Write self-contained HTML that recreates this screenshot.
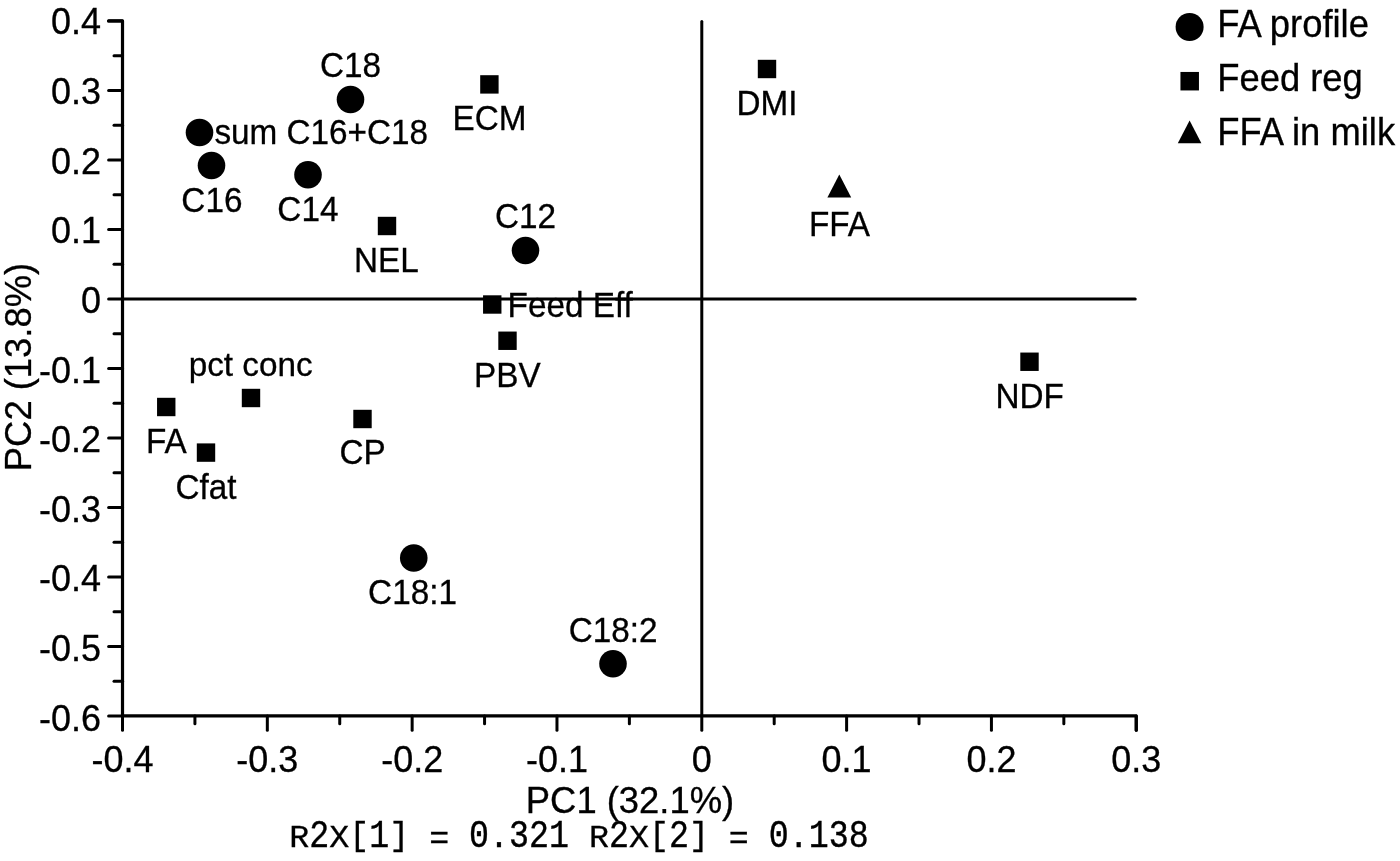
<!DOCTYPE html>
<html lang="en"><head><meta charset="utf-8"><title>PCA loadings plot</title>
<style>html,body{margin:0;padding:0;background:#fff;}body{width:1400px;height:861px;overflow:hidden;}svg{display:block;}text{font-family:"Liberation Sans",sans-serif;fill:#000;}text.mono{font-family:"Liberation Mono",monospace;}</style></head><body>
<svg width="1400" height="861" viewBox="0 0 1400 861">
<defs><filter id="soft" x="0" y="0" width="1400" height="861" filterUnits="userSpaceOnUse" color-interpolation-filters="sRGB"><feGaussianBlur stdDeviation="0.45"/></filter></defs>
<rect x="0" y="0" width="1400" height="861" fill="#ffffff"/>
<g filter="url(#soft)">
<rect x="0" y="0" width="1400" height="861" fill="#ffffff"/>
<g stroke="#000" fill="none" stroke-linecap="round" stroke-linejoin="round">
<path d="M108.6 20.95 H122.51 V715.95 H1136.25 V730.25" stroke-width="3.2"/>
<line x1="122.51" y1="298.95" x2="1135.25" y2="298.95" stroke-width="3.0"/>
<line x1="701.79" y1="21.55" x2="701.79" y2="715.95" stroke-width="3.0"/>
<line x1="108.6" y1="20.95" x2="122.51" y2="20.95" stroke-width="3.0"/>
<line x1="114.0" y1="55.70" x2="122.51" y2="55.70" stroke-width="3.0"/>
<line x1="108.6" y1="90.45" x2="122.51" y2="90.45" stroke-width="3.0"/>
<line x1="114.0" y1="125.20" x2="122.51" y2="125.20" stroke-width="3.0"/>
<line x1="108.6" y1="159.95" x2="122.51" y2="159.95" stroke-width="3.0"/>
<line x1="114.0" y1="194.70" x2="122.51" y2="194.70" stroke-width="3.0"/>
<line x1="108.6" y1="229.45" x2="122.51" y2="229.45" stroke-width="3.0"/>
<line x1="114.0" y1="264.20" x2="122.51" y2="264.20" stroke-width="3.0"/>
<line x1="108.6" y1="298.95" x2="122.51" y2="298.95" stroke-width="3.0"/>
<line x1="114.0" y1="333.70" x2="122.51" y2="333.70" stroke-width="3.0"/>
<line x1="108.6" y1="368.45" x2="122.51" y2="368.45" stroke-width="3.0"/>
<line x1="114.0" y1="403.20" x2="122.51" y2="403.20" stroke-width="3.0"/>
<line x1="108.6" y1="437.95" x2="122.51" y2="437.95" stroke-width="3.0"/>
<line x1="114.0" y1="472.70" x2="122.51" y2="472.70" stroke-width="3.0"/>
<line x1="108.6" y1="507.45" x2="122.51" y2="507.45" stroke-width="3.0"/>
<line x1="114.0" y1="542.20" x2="122.51" y2="542.20" stroke-width="3.0"/>
<line x1="108.6" y1="576.95" x2="122.51" y2="576.95" stroke-width="3.0"/>
<line x1="114.0" y1="611.70" x2="122.51" y2="611.70" stroke-width="3.0"/>
<line x1="108.6" y1="646.45" x2="122.51" y2="646.45" stroke-width="3.0"/>
<line x1="114.0" y1="681.20" x2="122.51" y2="681.20" stroke-width="3.0"/>
<line x1="108.6" y1="715.95" x2="122.51" y2="715.95" stroke-width="3.0"/>
<line x1="122.51" y1="715.95" x2="122.51" y2="730.25" stroke-width="3.0"/>
<line x1="194.92" y1="715.95" x2="194.92" y2="723.75" stroke-width="3.0"/>
<line x1="267.33" y1="715.95" x2="267.33" y2="730.25" stroke-width="3.0"/>
<line x1="339.74" y1="715.95" x2="339.74" y2="723.75" stroke-width="3.0"/>
<line x1="412.15" y1="715.95" x2="412.15" y2="730.25" stroke-width="3.0"/>
<line x1="484.56" y1="715.95" x2="484.56" y2="723.75" stroke-width="3.0"/>
<line x1="556.97" y1="715.95" x2="556.97" y2="730.25" stroke-width="3.0"/>
<line x1="629.38" y1="715.95" x2="629.38" y2="723.75" stroke-width="3.0"/>
<line x1="701.79" y1="715.95" x2="701.79" y2="730.25" stroke-width="3.0"/>
<line x1="774.20" y1="715.95" x2="774.20" y2="723.75" stroke-width="3.0"/>
<line x1="846.61" y1="715.95" x2="846.61" y2="730.25" stroke-width="3.0"/>
<line x1="919.02" y1="715.95" x2="919.02" y2="723.75" stroke-width="3.0"/>
<line x1="991.43" y1="715.95" x2="991.43" y2="730.25" stroke-width="3.0"/>
<line x1="1063.84" y1="715.95" x2="1063.84" y2="723.75" stroke-width="3.0"/>
<line x1="1136.25" y1="715.95" x2="1136.25" y2="730.25" stroke-width="3.0"/>
</g>
<g stroke="#000" stroke-width="0.3">
<text transform="translate(101.10 34.45) scale(1 1.045)" font-size="36" text-anchor="end">0.4</text>
<text transform="translate(101.10 104.06) scale(1 1.045)" font-size="36" text-anchor="end">0.3</text>
<text transform="translate(101.10 173.67) scale(1 1.045)" font-size="36" text-anchor="end">0.2</text>
<text transform="translate(101.10 243.28) scale(1 1.045)" font-size="36" text-anchor="end">0.1</text>
<text transform="translate(101.10 312.89) scale(1 1.045)" font-size="36" text-anchor="end">0</text>
<text transform="translate(101.10 382.50) scale(1 1.045)" font-size="36" text-anchor="end">-0.1</text>
<text transform="translate(101.10 452.11) scale(1 1.045)" font-size="36" text-anchor="end">-0.2</text>
<text transform="translate(101.10 521.72) scale(1 1.045)" font-size="36" text-anchor="end">-0.3</text>
<text transform="translate(101.10 591.33) scale(1 1.045)" font-size="36" text-anchor="end">-0.4</text>
<text transform="translate(101.10 660.94) scale(1 1.045)" font-size="36" text-anchor="end">-0.5</text>
<text transform="translate(101.10 730.55) scale(1 1.045)" font-size="36" text-anchor="end">-0.6</text>
<text transform="translate(122.51 771.70) scale(1 1.045)" font-size="36" text-anchor="middle">-0.4</text>
<text transform="translate(267.33 771.70) scale(1 1.045)" font-size="36" text-anchor="middle">-0.3</text>
<text transform="translate(412.15 771.70) scale(1 1.045)" font-size="36" text-anchor="middle">-0.2</text>
<text transform="translate(556.97 771.70) scale(1 1.045)" font-size="36" text-anchor="middle">-0.1</text>
<text transform="translate(701.79 771.70) scale(1 1.045)" font-size="36" text-anchor="middle">0</text>
<text transform="translate(846.61 771.70) scale(1 1.045)" font-size="36" text-anchor="middle">0.1</text>
<text transform="translate(991.43 771.70) scale(1 1.045)" font-size="36" text-anchor="middle">0.2</text>
<text transform="translate(1136.25 771.70) scale(1 1.045)" font-size="36" text-anchor="middle">0.3</text>
<text transform="translate(630.00 812.90) scale(1 1.0)" font-size="36.4" text-anchor="middle">PC1 (32.1%)</text>
<text transform="translate(31.0 367) rotate(-90)" font-size="36.4" text-anchor="middle">PC2 (13.8%)</text>
<text transform="translate(350.60 77.40) scale(1 1.045)" font-size="33.3" text-anchor="middle">C18</text>
<text transform="translate(321.25 143.60) scale(1 1.045)" font-size="33.3" text-anchor="middle">sum C16+C18</text>
<text transform="translate(211.90 212.40) scale(1 1.045)" font-size="33.3" text-anchor="middle">C16</text>
<text transform="translate(307.90 221.10) scale(1 1.045)" font-size="33.3" text-anchor="middle">C14</text>
<text transform="translate(489.50 130.30) scale(1 1.045)" font-size="33.3" text-anchor="middle">ECM</text>
<text transform="translate(386.40 272.40) scale(1 1.045)" font-size="33.3" text-anchor="middle">NEL</text>
<text transform="translate(525.60 227.90) scale(1 1.045)" font-size="33.3" text-anchor="middle">C12</text>
<text transform="translate(570.20 316.60) scale(1 1.045)" font-size="33.3" text-anchor="middle">Feed Eff</text>
<text transform="translate(507.40 386.90) scale(1 1.045)" font-size="33.3" text-anchor="middle">PBV</text>
<text transform="translate(250.70 376.10) scale(1 1.0)" font-size="33.3" text-anchor="middle">pct conc</text>
<text transform="translate(166.40 453.10) scale(1 1.045)" font-size="33.3" text-anchor="middle">FA</text>
<text transform="translate(206.00 498.80) scale(1 1.045)" font-size="33.3" text-anchor="middle">Cfat</text>
<text transform="translate(362.50 464.40) scale(1 1.045)" font-size="33.3" text-anchor="middle">CP</text>
<text transform="translate(412.50 604.40) scale(1 1.045)" font-size="33.3" text-anchor="middle">C18:1</text>
<text transform="translate(613.10 641.60) scale(1 1.045)" font-size="33.3" text-anchor="middle">C18:2</text>
<text transform="translate(767.00 115.40) scale(1 1.045)" font-size="33.3" text-anchor="middle">DMI</text>
<text transform="translate(839.50 235.60) scale(1 1.045)" font-size="33.3" text-anchor="middle">FFA</text>
<text transform="translate(1029.60 407.90) scale(1 1.045)" font-size="33.3" text-anchor="middle">NDF</text>
<text transform="translate(1217.20 37.00) scale(1 1.045)" font-size="36.4" text-anchor="start">FA profile</text>
<text transform="translate(1217.20 91.00) scale(1 1.045)" font-size="36.4" text-anchor="start">Feed reg</text>
<text transform="translate(1217.20 145.30) scale(1 1.045)" font-size="36.4" text-anchor="start">FFA in milk</text>
</g>
<g font-size="33.3" stroke="#000" stroke-width="0.35">
<text class="mono" transform="translate(289.30 846.60) scale(1 0.92)">R</text>
<text class="mono" transform="translate(309.28 846.60) scale(1 1.14)">2</text>
<text class="mono" transform="translate(329.26 846.60) scale(1 0.92)">X</text>
<text class="mono" transform="translate(349.24 845.10) scale(1 1.0)">[</text>
<text class="mono" transform="translate(369.22 846.60) scale(1 1.14)">1</text>
<text class="mono" transform="translate(389.20 845.10) scale(1 1.0)">]</text>
<text class="mono" transform="translate(429.16 848.80) scale(1 1.0)">=</text>
<text class="mono" transform="translate(469.12 846.60) scale(1 1.14)">0</text>
<text class="mono" transform="translate(489.10 846.60) scale(1 1.0)">.</text>
<text class="mono" transform="translate(509.08 846.60) scale(1 1.14)">3</text>
<text class="mono" transform="translate(529.06 846.60) scale(1 1.14)">2</text>
<text class="mono" transform="translate(549.04 846.60) scale(1 1.14)">1</text>
<text class="mono" transform="translate(589.00 846.60) scale(1 0.92)">R</text>
<text class="mono" transform="translate(608.98 846.60) scale(1 1.14)">2</text>
<text class="mono" transform="translate(628.96 846.60) scale(1 0.92)">X</text>
<text class="mono" transform="translate(648.94 845.10) scale(1 1.0)">[</text>
<text class="mono" transform="translate(668.92 846.60) scale(1 1.14)">2</text>
<text class="mono" transform="translate(688.90 845.10) scale(1 1.0)">]</text>
<text class="mono" transform="translate(728.86 848.80) scale(1 1.0)">=</text>
<text class="mono" transform="translate(768.82 846.60) scale(1 1.14)">0</text>
<text class="mono" transform="translate(788.80 846.60) scale(1 1.0)">.</text>
<text class="mono" transform="translate(808.78 846.60) scale(1 1.14)">1</text>
<text class="mono" transform="translate(828.76 846.60) scale(1 1.14)">3</text>
<text class="mono" transform="translate(848.74 846.60) scale(1 1.14)">8</text>
</g>
<g fill="#000">
<circle cx="350.5" cy="99.5" r="13.8"/>
<circle cx="199.5" cy="132.5" r="13.8"/>
<circle cx="211.5" cy="165.5" r="13.8"/>
<circle cx="308" cy="174.75" r="13.8"/>
<circle cx="525.5" cy="250.5" r="13.8"/>
<circle cx="413.75" cy="558" r="13.8"/>
<circle cx="613" cy="663.75" r="13.8"/>
<rect x="480.20" y="75.20" width="18.4" height="18.4"/>
<rect x="377.80" y="216.80" width="18.4" height="18.4"/>
<rect x="483.05" y="295.30" width="18.4" height="18.4"/>
<rect x="498.30" y="331.55" width="18.4" height="18.4"/>
<rect x="241.80" y="388.80" width="18.4" height="18.4"/>
<rect x="157.05" y="397.80" width="18.4" height="18.4"/>
<rect x="196.80" y="443.40" width="18.4" height="18.4"/>
<rect x="353.30" y="409.80" width="18.4" height="18.4"/>
<rect x="757.80" y="59.80" width="18.4" height="18.4"/>
<rect x="1020.30" y="352.55" width="18.4" height="18.4"/>
<polygon points="839.3,174.5 851.2,197.5 827.4,197.5"/>
<circle cx="1189.6" cy="27" r="14"/>
<rect x="1180.45" y="71.95" width="18.5" height="18.5"/>
<polygon points="1189.6,120.4 1201.4,143.3 1177.8,143.3"/>
</g>
</g>
</svg></body></html>
